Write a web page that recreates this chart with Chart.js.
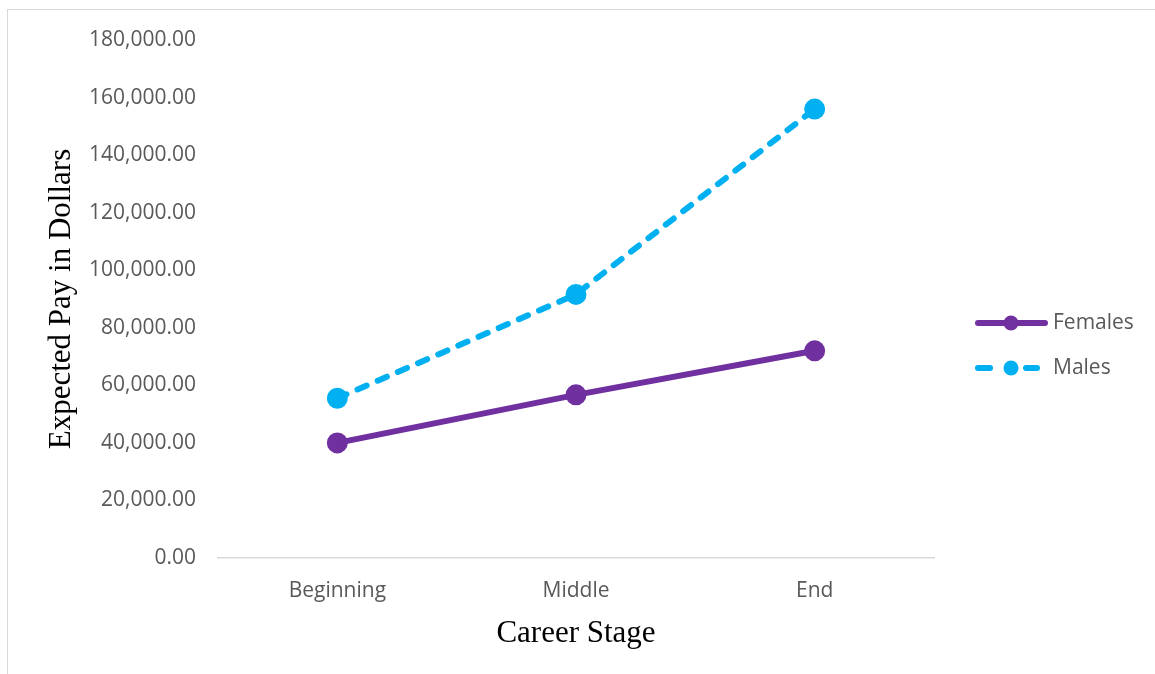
<!DOCTYPE html>
<html>
<head>
<meta charset="utf-8">
<script src="https://cdn.jsdelivr.net/npm/chart.js@4"></script>
<style>
    html, body { margin: 0; padding: 0; background: #fff; }
    .wrap { position: relative; width: 1155px; height: 674px; }
    .frame {
        position: absolute; left: 7px; top: 9px; right: 0; bottom: 0;
        border-top: 1.5px solid #d9d9d9;
        border-left: 1.5px solid #d9d9d9;
    }
    canvas { position: absolute; left: 0; top: 0; }
</style>
</head>
<body>
<div class="wrap">
    <div class="frame"></div>
    <canvas id="payChart" width="1155" height="674"></canvas>
</div>
<script>
// Expected pay by career stage
const stages = ['Beginning', 'Middle', 'End'];
const femalesPay = [40000, 56700, 72000];
const malesPay = [55500, 91600, 156000];
const yTicks = [0, 20000, 40000, 60000, 80000, 100000, 120000, 140000, 160000, 180000];

const PURPLE = '#7030a0';
const BLUE = '#00b0f0';
const TICK_COLOR = '#595959';

// Legend drawn as line + marker, the way spreadsheet charts show it
const lineLegend = {
    id: 'lineLegend',
    afterDraw(chart) {
        const ctx = chart.ctx;
        const rows = [323, 368];
        chart.data.datasets.forEach((ds, i) => {
            const y = rows[i];
            ctx.save();
            ctx.strokeStyle = ds.borderColor;
            ctx.lineWidth = ds.borderWidth;
            ctx.lineCap = 'round';
            ctx.beginPath();
            if (ds.borderDash) {
                // dash - marker - dash
                ctx.moveTo(978, y);
                ctx.lineTo(990, y);
                ctx.moveTo(1026, y);
                ctx.lineTo(1037, y);
            } else {
                ctx.moveTo(978, y);
                ctx.lineTo(1045, y);
            }
            ctx.stroke();
            ctx.fillStyle = ds.borderColor;
            ctx.beginPath();
            ctx.arc(1011, y, 7.5, 0, Math.PI * 2);
            ctx.fill();
            ctx.fillStyle = TICK_COLOR;
            ctx.font = '21px "Open Sans"';
            ctx.textBaseline = 'middle';
            ctx.textAlign = 'left';
            ctx.fillText(ds.label, 1053, y);
            ctx.restore();
        });
    }
};

const ctx = document.getElementById('payChart').getContext('2d');
new Chart(ctx, {
    type: 'line',
    data: {
        labels: stages,
        datasets: [{
            label: 'Females',
            data: femalesPay,
            borderColor: PURPLE,
            backgroundColor: PURPLE,
            borderWidth: 6,
            pointRadius: 7.5,
            pointBackgroundColor: PURPLE,
            pointBorderColor: PURPLE,
            tension: 0
        }, {
            label: 'Males',
            data: malesPay,
            borderColor: BLUE,
            backgroundColor: BLUE,
            borderWidth: 6,
            borderDash: [10, 12],
            borderCapStyle: 'round',
            pointRadius: 7.5,
            pointBackgroundColor: BLUE,
            pointBorderColor: BLUE,
            tension: 0
        }]
    },
    options: {
        responsive: false,
        animation: false,
        layout: {
            padding: { left: 0, right: 221, top: 40, bottom: 0 }
        },
        plugins: {
            legend: { display: false },
            tooltip: { enabled: false }
        },
        scales: {
            x: {
                offset: true,
                grid: { display: false, drawTicks: false },
                border: { display: true, color: '#d9d9d9', width: 1.5 },
                ticks: {
                    color: TICK_COLOR,
                    padding: 20,
                    font: { family: 'Open Sans', size: 21 }
                },
                title: {
                    display: true,
                    text: 'Career Stage',
                    color: '#000',
                    padding: { top: 0, bottom: 22 },
                    font: { family: 'Liberation Serif', size: 31 }
                },
                afterFit(scale) { scale.height = 116; }
            },
            y: {
                min: 0,
                max: 180000,
                afterBuildTicks(scale) {
                    scale.ticks = yTicks.map(v => ({ value: v }));
                },
                grid: { display: false, drawTicks: false },
                border: { display: false },
                ticks: {
                    color: TICK_COLOR,
                    padding: 22,
                    font: { family: 'Open Sans', size: 21 },
                    callback: v => v.toLocaleString('en-US', { minimumFractionDigits: 2, maximumFractionDigits: 2 })
                },
                title: {
                    display: true,
                    text: 'Expected Pay in Dollars',
                    color: '#000',
                    padding: { top: 43, bottom: 0 },
                    font: { family: 'Liberation Serif', size: 31 }
                },
                afterFit(scale) { scale.width = 218; }
            }
        }
    },
    plugins: [lineLegend]
});
</script>
</body>
</html>
